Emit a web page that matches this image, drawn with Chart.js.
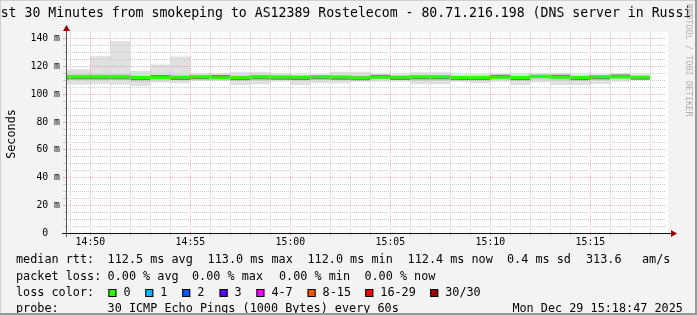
<!DOCTYPE html>
<html>
<head>
<meta charset="utf-8">
<script src="https://cdn.jsdelivr.net/npm/chart.js@4.4.1/dist/chart.umd.min.js"></script>
<style>
  html, body { margin: 0; padding: 0; background: #f3f3f3; }
  canvas { display: block; }
</style>
</head>
<body>
<canvas id="canvas" width="697" height="315"></canvas>
<script>
"use strict"

// one smoke bar per minute (bar start time)
const minutes = ["14:48","14:49","14:50","14:51","14:52","14:53","14:54","14:55","14:56","14:57",
                 "14:58","14:59","15:00","15:01","15:02","15:03","15:04","15:05","15:06","15:07",
                 "15:08","15:09","15:10","15:11","15:12","15:13","15:14","15:15","15:16","15:17"];
const rttMedian = [112.8,112.8,112.8,112.8,112.1,112.1,112.3,112.8,112.0,112.1,
                   112.8,112.5,112.3,112.8,112.5,112.0,112.3,112.3,112.8,112.8,
                   112.1,112.1,112.3,112.1,113.0,112.3,112.1,112.8,112.5,112.4];
const rttMax = [117.5,118.1,127.5,138.5,117.1,121.5,127.3,115.2,115.2,115.9,
                116.4,115.2,114.5,114.5,116.4,116.4,114.5,114.5,116.0,116.0,
                114.5,114.5,114.5,115.2,115.2,115.2,114.5,114.5,115.2,114.5];
const rttMin = [107.0,107.0,107.5,107.0,106.0,108.5,108.0,109.5,109.5,106.8,
                107.3,109.2,106.8,108.0,108.0,109.2,109.2,109.2,107.3,107.3,
                109.2,108.0,109.2,106.8,108.8,106.8,106.8,107.3,109.2,110.4];
const rttP75 = [114.3,114.3,114.5,114.6,113.6,113.9,113.8,114.0,113.8,113.6,
                114.2,113.9,113.6,114.0,114.0,113.6,113.9,113.7,114.0,114.0,
                113.5,113.6,113.8,113.5,114.2,113.8,113.5,114.0,113.9,113.6];
const rttP25 = [110.2,110.2,110.4,110.3,109.3,110.0,110.2,110.8,110.6,109.6,
                110.0,110.6,109.8,110.5,110.2,110.5,110.7,110.6,109.9,109.9,
                110.5,110.0,110.6,109.6,110.8,109.8,109.6,110.2,110.9,111.2];
const rttP60 = [113.5,113.5,113.5,113.5,112.8,114.0,113.0,113.5,113.9,112.8,
                113.5,113.2,113.0,113.5,113.2,112.7,114.2,113.0,113.5,113.5,
                112.8,112.8,114.2,112.8,113.7,114.2,112.8,113.5,114.4,113.1];
const rttP40 = [110.9,110.9,110.9,110.9,110.2,111.4,110.4,110.9,111.3,110.2,
                110.9,110.6,110.4,110.9,110.6,110.1,111.6,110.4,110.9,110.9,
                110.2,110.2,111.6,110.2,112.3,111.6,110.2,110.9,111.8,110.5];

const yTicks = [0,5,10,15,20,25,30,35,40,45,50,55,60,65,70,75,80,85,90,95,100,105,110,115,120,125,130,135,140];
const lossLabels = ["0","1","2","3","4-7","8-15","16-29","30/30"];
const lossColors = ["#26ff00","#00b8ff","#0059ff","#5e00ff","#ff00ff","#ff5500","#ff0000","#a00000"];

const MONO = "'DejaVu Sans Mono', monospace";

// minutes relative to 14:50
function toX(t) {
    let p = t.split(":");
    return (+p[0]) * 60 + (+p[1]) - (14 * 60 + 50);
}
function fmtX(v) {
    let m = 14 * 60 + 50 + v;
    return String(Math.floor(m / 60)).padStart(2, "0") + ":" + String(m % 60).padStart(2, "0");
}
function steps(arr) {
    let pts = minutes.map((t, i) => ({ x: toX(t), y: arr[i] }));
    let last = minutes.length - 1;
    pts.push({ x: toX(minutes[last]) + 1, y: arr[last] });
    return pts;
}
function band(arr, color, order, fill) {
    return {
        data: steps(arr),
        stepped: "before",
        borderWidth: 0,
        borderColor: "rgba(0,0,0,0)",
        backgroundColor: color,
        pointRadius: 0,
        fill: fill,
        order: order
    };
}

const decor = {
    id: "decor",
    beforeDraw(chart) {
        let c = chart.ctx;
        c.save();
        c.fillStyle = "#f3f3f3";
        c.fillRect(0, 0, 697, 315);
        c.fillStyle = "#ffffff";
        c.fillRect(66, 32, 602, 201);
        c.restore();
    },
    afterDraw(chart) {
        let c = chart.ctx;
        c.save();
        // axes
        c.strokeStyle = "#555";
        c.lineWidth = 1;
        c.beginPath();
        c.moveTo(66.5, 237); c.lineTo(66.5, 30);
        c.stroke();
        c.strokeStyle = "#111";
        c.beginPath();
        c.moveTo(62, 233.5); c.lineTo(672, 233.5);
        c.stroke();
        c.fillStyle = "#9a0000";
        c.beginPath();
        c.moveTo(63, 31); c.lineTo(70, 31); c.lineTo(66.5, 25); c.closePath();
        c.fill();
        c.beginPath();
        c.moveTo(671, 230); c.lineTo(671, 237); c.lineTo(677, 233.5); c.closePath();
        c.fill();

        // title (cut off at the credit column, like the original)
        c.save();
        c.beginPath();
        c.rect(0, 0, 690, 30);
        c.clip();
        c.fillStyle = "#000";
        c.textBaseline = "alphabetic";
        c.textAlign = "center";
        c.font = "13.2px " + MONO;
        c.fillText("Last 30 Minutes from smokeping to AS12389 Rostelecom - 80.71.216.198 (DNS server in Russia)", 346, 17);
        c.restore();

        // y title
        c.save();
        c.translate(12, 134);
        c.rotate(-Math.PI / 2);
        c.fillStyle = "#000";
        c.textAlign = "center";
        c.font = "11.8px " + MONO;
        c.textBaseline = "middle";
        c.fillText("Seconds", 0, 0);
        c.restore();

        // credit
        c.save();
        c.translate(688, 4);
        c.rotate(Math.PI / 2);
        c.font = "8.5px " + MONO;
        c.fillStyle = "#b0b0b0";
        c.textAlign = "left";
        c.textBaseline = "middle";
        c.fillText("RRDTOOL / TOBI OETIKER", 0, 0);
        c.restore();

        // legend text
        c.fillStyle = "#000";
        c.textAlign = "left";
        c.textBaseline = "middle";
        c.font = "11.8px " + MONO;
        let rows = [
            [260, [[16, "median rtt:"], [107.6, "112.5 ms avg"], [207.6, "113.0 ms max"], [307.5, "112.0 ms min"],
                   [407.6, "112.4 ms now"], [507, "0.4 ms sd"], [586, "313.6"], [642, "am/s"]]],
            [276.5, [[16, "packet loss:"], [107.6, "0.00 % avg"], [192, "0.00 % max"], [279, "0.00 % min"], [364.4, "0.00 % now"]]],
            [293, [[16, "loss color:"]]],
            [309, [[16, "probe:"], [107.6, "30 ICMP Echo Pings (1000 Bytes) every 60s"], [512.4, "Mon Dec 29 15:18:47 2025"]]]
        ];
        rows.forEach(r => r[1].forEach(p => c.fillText(p[1], p[0], r[0])));
        let boxX = [108.4, 145.3, 182.2, 219.6, 256.4, 307.6, 365.3, 430.2];
        lossLabels.forEach((lab, i) => {
            c.fillStyle = lossColors[i];
            c.fillRect(boxX[i], 289, 8, 8);
            c.strokeStyle = "#000";
            c.strokeRect(boxX[i] + 0.5, 289.5, 7, 7);
            c.fillStyle = "#000";
            c.fillText(lab, boxX[i] + 15, 293);
        });

        // frame
        c.fillStyle = "#d0d0d0";
        c.fillRect(0, 0, 697, 1);
        c.fillRect(0, 0, 1, 315);
        c.fillStyle = "#999";
        c.fillRect(0, 313, 697, 2);
        c.fillRect(695, 0, 2, 315);
        c.restore();
    }
};

let ctx = document.getElementById("canvas").getContext("2d");
let myChart = new Chart(ctx, {
    type: "line",
    data: {
        datasets: [
            band(rttMax, "#e0e0e0", 10, false),
            band(rttMin, "#e0e0e0", 9, "-1"),
            band(rttP75, "#c8c8c8", 8, false),
            band(rttP25, "#c8c8c8", 7, "-1"),
            band(rttP60, "#7c7c7c", 6, false),
            band(rttP40, "#7c7c7c", 5, "-1"),
            {
                data: steps(rttMedian),
                stepped: "before",
                borderWidth: 3,
                borderColor: lossColors[0],
                pointRadius: 0,
                fill: false,
                order: 1
            }
        ]
    },
    options: {
        responsive: false,
        devicePixelRatio: 1,
        animation: false,
        layout: { padding: { left: 0, top: 32, right: 31, bottom: 62 } },
        plugins: { legend: { display: false }, tooltip: { enabled: false }, title: { display: false } },
        scales: {
            x: {
                type: "linear",
                min: -73 / 60,
                max: 28 + 47 / 60,
                afterFit(s) { s.height = 20; },
                afterBuildTicks(s) {
                    let t = [];
                    for (let v = -1; v <= 28; v++) t.push({ value: v });
                    s.ticks = t;
                },
                ticks: {
                    autoSkip: false,
                    maxRotation: 0,
                    padding: 1,
                    color: "#000",
                    font: { family: MONO, size: 9.8 },
                    callback: v => (v % 5 === 0 ? fmtX(v) : "")
                },
                grid: {
                    z: 1,
                    tickLength: 3,
                    color: c => (c.tick && c.tick.value % 5 === 0 ? "rgba(225,90,90,0.45)" : "#cccccc")
                },
                border: { display: false, dash: [1, 1] }
            },
            y: {
                min: 0,
                max: 145,
                afterFit(s) { s.width = 66; },
                afterBuildTicks(s) { s.ticks = yTicks.map(v => ({ value: v })); },
                ticks: {
                    autoSkip: false,
                    padding: 3,
                    color: "#000",
                    font: { family: MONO, size: 9.8 },
                    callback: v => (v % 20 === 0 ? (v === 0 ? "0  " : v + " m") : "")
                },
                grid: {
                    z: 1,
                    tickLength: 3,
                    color: c => (c.tick && c.tick.value % 20 === 0 ? "rgba(225,90,90,0.45)" : "#cccccc")
                },
                border: { display: false, dash: [1, 1] }
            }
        }
    },
    plugins: [decor]
});
</script>
</body>
</html>
